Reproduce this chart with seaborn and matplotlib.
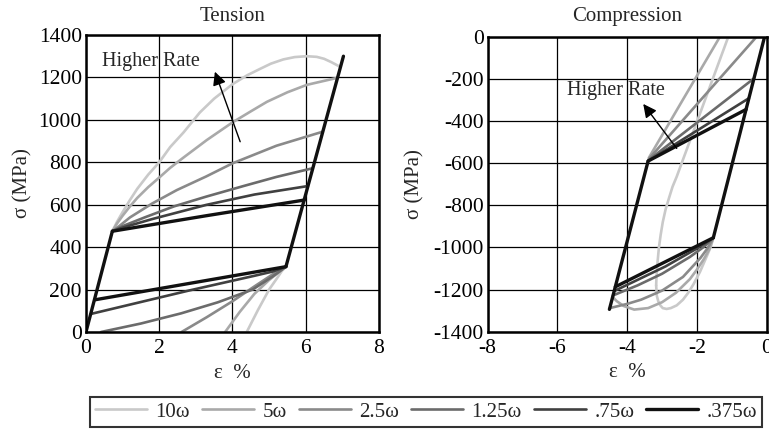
import numpy as np
import pandas as pd
import matplotlib
matplotlib.use("Agg")
import matplotlib.pyplot as plt
from matplotlib.lines import Line2D
import seaborn as sns

# ---------------- data ----------------
SERIES = ["10ω", "5ω", "2.5ω", "1.25ω", ".75ω", ".375ω"]

# Tension: loading (upper) branches
T_UP_X = {
    "10ω":   [0.72, 0.85, 1.0, 1.2, 1.4, 1.7, 2.0, 2.3, 2.66, 3.11, 3.5, 4.0, 4.4, 4.75, 5.05, 5.39, 5.7, 6.03, 6.3, 6.5, 6.7, 6.94],
    "5ω":    [0.72, 0.85, 1.0, 1.2, 1.4, 1.7, 2.0, 2.3, 2.66, 3.3, 4.0, 4.5, 4.94, 5.5, 6.03, 6.86],
    "2.5ω":  [0.72, 0.9, 1.2, 1.8, 2.48, 3.28, 4.0, 5.2, 6.46],
    "1.25ω": [0.72, 1.0, 1.6, 2.4, 3.28, 4.3, 5.2, 6.19],
    ".75ω":  [0.72, 1.0, 1.8, 3.28, 4.6, 6.06],
    ".375ω": [0.72, 3.28, 5.96],
}
T_UP_Y = {
    "10ω":   [475, 520, 565, 622, 675, 742, 800, 872, 940, 1035, 1100, 1168, 1210, 1240, 1265, 1285, 1296, 1300, 1297, 1288, 1272, 1250],
    "5ω":    [475, 512, 548, 592, 632, 683, 728, 774, 822, 905, 988, 1040, 1085, 1130, 1165, 1198],
    "2.5ω":  [475, 498, 540, 605, 669, 733, 795, 878, 944],
    "1.25ω": [475, 499, 540, 592, 638, 688, 731, 772],
    ".75ω":  [475, 492, 532, 599, 648, 688],
    ".375ω": [475, 548, 622],
}
# Tension: unloading (lower) branches
T_LO_X = {
    "10ω":   [5.46, 5.35, 5.25, 5.0, 4.7, 4.39],
    "5ω":    [5.46, 5.35, 5.25, 5.0, 4.6, 4.2, 3.8],
    "2.5ω":  [5.46, 5.3, 5.1, 4.6, 4.0, 3.3, 2.61],
    "1.25ω": [5.46, 5.3, 5.1, 4.55, 3.6, 2.6, 1.5, 0.41],
    ".75ω":  [5.46, 5.1, 4.6, 2.8, 0.13],
    ".375ω": [5.46, 0.25],
}
T_LO_Y = {
    "10ω":   [308, 288, 262, 200, 105, 0],
    "5ω":    [308, 295, 280, 245, 180, 95, 0],
    "2.5ω":  [308, 292, 272, 215, 145, 70, 0],
    "1.25ω": [308, 287, 262, 200, 140, 88, 40, 0],
    ".75ω":  [308, 285, 265, 195, 85],
    ".375ω": [308, 152],
}
# Tension elastic outline
T_EL1_X, T_EL1_Y = [0.0, 0.72], [0, 475]
T_EL2_X, T_EL2_Y = [5.46, 7.03], [308, 1300]

# Compression: loading (lower) branches
C_LO_X = {
    "10ω":   [-1.53, -1.6, -1.7, -1.91, -2.1, -2.25, -2.4, -2.58, -2.75, -2.87, -2.98, -3.05, -3.11, -3.15, -3.17],
    "5ω":    [-1.53, -1.65, -1.8, -2.0, -2.2, -2.6, -3.0, -3.4, -3.8, -4.1, -4.3, -4.42],
    "2.5ω":  [-1.53, -1.7, -1.9, -2.4, -3.0, -3.6, -4.0, -4.5],
    "1.25ω": [-1.53, -1.8, -2.2, -3.0, -3.7, -4.41],
    ".75ω":  [-1.53, -2.0, -2.9, -4.37],
    ".375ω": [-1.53, -4.34],
}
C_LO_Y = {
    "10ω":   [-954, -995, -1035, -1115, -1175, -1215, -1248, -1275, -1288, -1292, -1288, -1275, -1255, -1230, -1180],
    "5ω":    [-954, -1010, -1055, -1105, -1150, -1215, -1260, -1288, -1295, -1278, -1255, -1235],
    "2.5ω":  [-954, -1005, -1050, -1140, -1205, -1248, -1268, -1288],
    "1.25ω": [-954, -997, -1045, -1125, -1180, -1228],
    ".75ω":  [-954, -1005, -1090, -1207],
    ".375ω": [-954, -1187],
}
# Compression: unloading (upper) branches
C_UP_X = {
    "10ω":   [-3.17, -3.16, -3.13, -3.09, -3.04, -2.98, -2.9, -2.8, -2.7, -2.58, -1.84, -1.10],
    "5ω":    [-3.38, -2.4, -1.34],
    "2.5ω":  [-3.38, -1.8, -0.29],
    "1.25ω": [-3.38, -0.365],
    ".75ω":  [-3.38, -0.51],
    ".375ω": [-3.4, -0.59],
}
C_UP_Y = {
    "10ω":   [-1180, -1140, -1070, -1000, -940, -880, -820, -765, -712, -664, -332, 0],
    "5ω":    [-575, -298, 0],
    "2.5ω":  [-580, -283, 0],
    "1.25ω": [-585, -198],
    ".75ω":  [-588, -292],
    ".375ω": [-590, -345],
}
# Compression elastic outline
C_EL1_X, C_EL1_Y = [-0.06, -1.53], [0, -954]
C_EL2_X, C_EL2_Y = [-4.51, -3.4], [-1294, -590]

COLORS = ["#c9c9c9", "#a9a9a9", "#8a8a8a", "#6b6b6b", "#404040", "#111111"]

# ---------------- build long table ----------------
rows = []
def add(panel, series, branch, xs, ys):
    for i, (x, y) in enumerate(zip(xs, ys)):
        rows.append(dict(panel=panel, series=series, branch=branch, order=i, x=x, y=y))

for s in SERIES:
    add("T", s, "up", T_UP_X[s], T_UP_Y[s])
    add("T", s, "lo", T_LO_X[s], T_LO_Y[s])
    add("C", s, "lo", C_LO_X[s], C_LO_Y[s])
    add("C", s, "up", C_UP_X[s], C_UP_Y[s])
add("T", ".375ω", "el1", T_EL1_X, T_EL1_Y)
add("T", ".375ω", "el2", T_EL2_X, T_EL2_Y)
add("C", ".375ω", "el1", C_EL1_X, C_EL1_Y)
add("C", ".375ω", "el2", C_EL2_X, C_EL2_Y)
df = pd.DataFrame(rows)
df["unit"] = df["series"] + "_" + df["branch"]

# ---------------- style ----------------
sns.set_style("white")
plt.rcParams["font.family"] = ["Liberation Serif", "DejaVu Serif"]
plt.rcParams["axes.unicode_minus"] = False
TICK_FS = 15.5
LAB_FS = 15
TXT_FS = 14.5

palette = dict(zip(SERIES, COLORS))

fig = plt.figure(figsize=(7.69, 4.29), dpi=100)
axT = fig.add_axes([0.1118, 0.2261, 0.381, 0.6923])
axC = fig.add_axes([0.6342, 0.2268, 0.3628, 0.6876])

def draw(ax, panel):
    d = df[df.panel == panel]
    grays = d[d.series != ".375ω"]
    blk = d[d.series == ".375ω"]
    sns.lineplot(data=grays, x="x", y="y", hue="series", hue_order=SERIES[:-1],
                 palette=palette, units="unit", estimator=None, sort=False,
                 linewidth=1.9, legend=False, ax=ax)
    sns.lineplot(data=blk, x="x", y="y", hue="series", hue_order=[".375ω"],
                 palette=palette, units="unit", estimator=None, sort=False,
                 linewidth=2.4, legend=False, ax=ax)

draw(axT, "T")
draw(axC, "C")

for ax in (axT, axC):
    ax.grid(True, color="black", linewidth=0.9)
    ax.set_axisbelow(True)
    for sp in ax.spines.values():
        sp.set_color("black")
        sp.set_linewidth(1.8)
    ax.tick_params(length=0, labelsize=TICK_FS, colors="black")
    ax.tick_params(axis="x", pad=5)
    ax.tick_params(axis="y", pad=3)
    ax.set_xlabel("ε  %", fontsize=LAB_FS, labelpad=4)
    ax.set_ylabel("σ (MPa)", fontsize=LAB_FS)

axT.set_xlim(0, 8)
axT.set_ylim(0, 1400)
axT.set_xticks([0, 2, 4, 6, 8])
axT.set_yticks(np.arange(0, 1401, 200))
axT.set_title("Tension", fontsize=LAB_FS, pad=10)
axT.yaxis.set_label_coords(-0.184, 0.5)

axC.set_xlim(-8, 0)
axC.set_ylim(-1400, 0)
axC.set_xticks([-8, -6, -4, -2, 0])
axC.set_yticks(np.arange(-1400, 1, 200))
axC.set_title("Compression", fontsize=LAB_FS, pad=11)
axC.yaxis.set_label_coords(-0.228, 0.5)

# annotations
axT.annotate("", xy=(3.52, 1227), xytext=(4.21, 897),
             arrowprops=dict(arrowstyle="-|>", color="black", lw=1.0,
                             mutation_scale=20, shrinkA=0, shrinkB=0))
axT.text(0.43, 1274, "Higher Rate", fontsize=TXT_FS, va="center", ha="left")
axC.annotate("", xy=(-3.54, -319), xytext=(-2.58, -530),
             arrowprops=dict(arrowstyle="-|>", color="black", lw=1.0,
                             mutation_scale=20, shrinkA=0, shrinkB=0))
axC.text(-5.73, -256, "Higher Rate", fontsize=TXT_FS, va="center", ha="left")

# legend
handles = [Line2D([0], [0], color=palette[s], lw=2.4 if s == ".375ω" else 1.9) for s in SERIES]
leg = fig.legend(handles, SERIES, loc="center", bbox_to_anchor=(0.554, 0.040), ncol=6,
                 fontsize=LAB_FS, frameon=True, fancybox=False, handlelength=2.5,
                 handletextpad=0.4, columnspacing=0.58, borderpad=0.25,
                 borderaxespad=0)
leg.get_frame().set_edgecolor("black")
leg.get_frame().set_linewidth(1.5)

fig.savefig("out.png", dpi=100)
